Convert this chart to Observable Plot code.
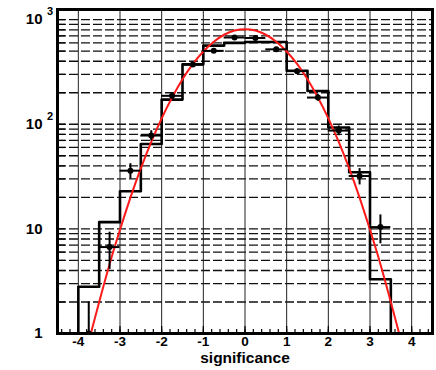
<!DOCTYPE html>
<html>
<head>
<meta charset="utf-8">
<script src="https://cdn.jsdelivr.net/npm/d3@7"></script>
<script src="https://cdn.jsdelivr.net/npm/@observablehq/plot@0.6"></script>
<style>
  body { margin: 0; background: #fff; }
  #chart svg { display: block; }
</style>
</head>
<body>
<div id="chart"></div>
<script>
// ---- data ----
const binEdges   = [-4, -3.5, -3, -2.5, -2, -1.5, -1, -0.5, 0, 0.5, 1, 1.5, 2, 2.5, 3, 3.5];
const histValues = [2.8, 11.6, 22.9, 64.8, 172, 374, 565, 600, 612, 612, 325, 208, 93, 34.8, 3.3];

const pointX   = [-3.75, -3.25, -2.75, -2.25, -1.75, -1.25, -0.75, -0.25, 0.25, 0.75, 1.25, 1.75, 2.25, 2.75, 3.25];
const pointY   = [1, 6.7, 36, 78, 187, 372, 503, 675, 668, 520, 322, 180, 87, 32, 10.4];
const pointErr = [1, 2.6, 6, 8.8, 13.7, 19.3, 22.4, 26, 25.8, 22.8, 17.9, 13.4, 9.3, 5.7, 3.2];

const fitX = [-3.7, -3.5, -3.25, -3, -2.75, -2.5, -2.25, -2, -1.75, -1.5, -1.25, -1, -0.75, -0.5, -0.25, 0,
              0.25, 0.5, 0.75, 1, 1.25, 1.5, 1.75, 2, 2.25, 2.5, 2.75, 3, 3.25, 3.5, 3.7];
const fitY = [1.0, 2.0, 4.6, 9.8, 19.9, 37.8, 67.7, 114, 180, 269, 377, 496, 615, 717, 786, 810,
              786, 717, 615, 496, 377, 269, 180, 114, 67.7, 37.8, 19.9, 9.8, 4.6, 2.0, 1.0];

const xTicks = [-4, -3, -2, -1, 0, 1, 2, 3, 4];
const xMinorTicks = [-4.4, -4.2, -4.0, -3.8, -3.6, -3.4, -3.2, -3.0, -2.8, -2.6, -2.4, -2.2, -2.0, -1.8, -1.6, -1.4, -1.2,
                     -1.0, -0.8, -0.6, -0.4, -0.2, 0, 0.2, 0.4, 0.6, 0.8, 1.0, 1.2, 1.4, 1.6, 1.8, 2.0, 2.2, 2.4,
                     2.6, 2.8, 3.0, 3.2, 3.4, 3.6, 3.8, 4.0, 4.2, 4.4];
const yTickValues = [1, 10, 100, 1000];
const yTickBase   = ["1", "10", "10", "10"];
const yTickExp    = ["", "", "2", "3"];
const xTitle = "significance";

// ---- tables built from the arrays ----
const last = binEdges.length - 1;
const histLine = [{x: binEdges[0], y: 0.5}]
  .concat(histValues.map((v, i) => ({x: binEdges[i], y: v})))
  .concat([{x: binEdges[last], y: histValues[histValues.length - 1]}, {x: binEdges[last], y: 0.5}]);

const points = pointX.map((x, i) => ({
  x, y: pointY[i], e: pointErr[i], x1: binEdges[i], x2: binEdges[i + 1]
}));
const fit = fitX.map((x, i) => ({x, y: fitY[i]}));

const chart = Plot.plot({
  width: 436,
  height: 370,
  marginLeft: 57,
  marginRight: 4,
  marginTop: 9,
  marginBottom: 37,
  style: {background: "white", fontFamily: "'Liberation Sans', Arial, Helvetica, sans-serif", color: "black"},
  x: {domain: [-4.5, 4.5]},
  y: {type: "log", domain: [1, 1250]},
  marks: [
    Plot.gridY({stroke: "#111", strokeOpacity: 1, strokeWidth: 1.3, strokeDasharray: "9,3"}),
    Plot.gridX(xTicks, {stroke: "#222", strokeOpacity: 1, strokeWidth: 1}),
    Plot.line(histLine, {x: "x", y: "y", curve: "step-after", stroke: "black", strokeWidth: 2.6, clip: true}),
    Plot.line(fit, {x: "x", y: "y", curve: "natural", stroke: "#ff1a1a", strokeWidth: 2, clip: true}),
    Plot.ruleX(points, {x: "x", y1: d => Math.max(d.y - d.e, 0.5), y2: d => d.y + d.e, stroke: "black", strokeWidth: 2, clip: true}),
    Plot.ruleY(points, {y: "y", x1: "x1", x2: "x2", stroke: "black", strokeWidth: 2, clip: true}),
    Plot.dot(points, {x: "x", y: "y", r: 3, fill: "black", clip: true}),
    Plot.axisX(xMinorTicks, {anchor: "bottom", tickSize: -4, fill: "none", stroke: "black", strokeWidth: 1.2, label: null}),
    Plot.axisX(xTicks, {anchor: "bottom", tickSize: -7, fill: "none", stroke: "black", strokeWidth: 1.2, label: null}),
    Plot.axisY({anchor: "left", tickSize: -8, fill: "none", stroke: "black", strokeWidth: 1.2, label: null}),
    Plot.frame({stroke: "black", strokeWidth: 3}),
    Plot.text(yTickValues, {y: d => d, text: (d, i) => yTickBase[i], frameAnchor: "left", textAnchor: "end",
      dx: -15, fontSize: 15, fontWeight: "bold", fill: "black"}),
    Plot.text(yTickValues, {y: d => d, text: (d, i) => yTickExp[i], frameAnchor: "left", textAnchor: "start",
      dx: -10.5, dy: -8, fontSize: 11, fontWeight: "bold", fill: "black"}),
    Plot.text(xTicks, {x: d => d, text: d => String(d), frameAnchor: "bottom", dy: 12.5,
      fontSize: 13.5, fontWeight: "bold", fill: "black"}),
    Plot.text([xTitle], {text: d => d, frameAnchor: "bottom", dy: 29, fontSize: 15.5, fontWeight: "bold", fill: "black"})
  ]
});
document.getElementById("chart").appendChild(chart);
</script>
</body>
</html>
